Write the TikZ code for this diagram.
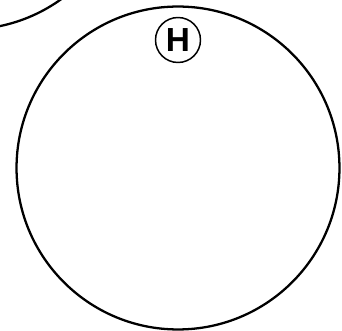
\documentclass[tikz,border=0pt]{standalone}
\usepackage{fontspec}
\setsansfont{Liberation Sans}
\usetikzlibrary{positioning}

\begin{document}
\begin{tikzpicture}[x=0.02cm, y=-0.02cm, >=stealth]
  % Styles
  \tikzstyle{outline} = [circle, draw, line width=1.3pt, inner sep=0pt]
  \tikzstyle{marker} = [circle, draw, line width=0.85pt, inner sep=0pt, minimum size=0.9cm, font=\sffamily\bfseries\fontsize{19}{19}\selectfont]

  % Frame
  \useasboundingbox (0,0) rectangle (342,331);
  \clip (0,0) rectangle (342,331);

  % Circles
  \node [outline, minimum size=6.46cm] (dial) at (178,168) {};
  \node [outline, minimum size=6.46cm] (neighbour) at (-33,-132) {};
  \node [marker] (hmark) at (178,40) {H};

\end{tikzpicture}
\end{document}
